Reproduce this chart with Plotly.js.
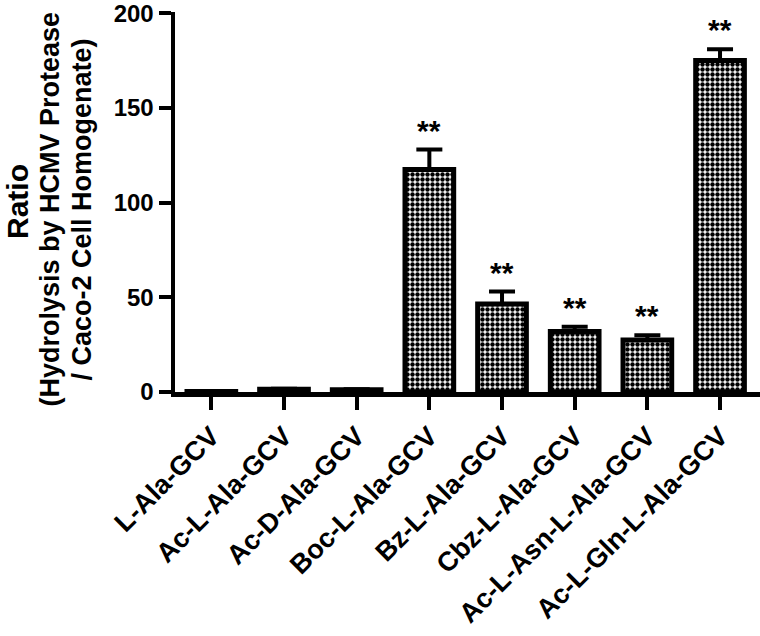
<!DOCTYPE html>
<html>
<head>
<meta charset="utf-8">
<script src="https://cdn.plot.ly/plotly-3.0.1.min.js"></script>
<style>
  html, body { margin: 0; padding: 0; background: #fff; }
  #chart { width: 760px; height: 636px; }
</style>
</head>
<body>
<div id="chart"></div>
<script>
// ---- data ----
var categories = ['L-Ala-GCV', 'Ac-L-Ala-GCV', 'Ac-D-Ala-GCV', 'Boc-L-Ala-GCV',
                  'Bz-L-Ala-GCV', 'Cbz-L-Ala-GCV', 'Ac-L-Asn-L-Ala-GCV', 'Ac-L-Gln-L-Ala-GCV'];
var ratio = [0.3, 1.5, 1.2, 117.5, 46.5, 32, 27.5, 175];
var sem = [0.1, 0.2, 0.2, 10.5, 6.5, 2.5, 2.5, 6];
var significance = ['', '', '', '**', '**', '**', '**', '**'];
var yTickVals = [0, 50, 100, 150, 200];
var yTickText = ['0', '50', '100', '150', '200'];

var FONT = '"Liberation Sans", Arial, Helvetica, sans-serif';

var trace = {
  type: 'bar',
  x: categories,
  y: ratio,
  width: 0.67,
  marker: {
    color: '#ffffff',
    line: { color: '#000000', width: 5 },
    pattern: { shape: '.', fgcolor: '#000000', bgcolor: '#ffffff', size: 5, solidity: 0.62 }
  },
  error_y: {
    type: 'data',
    array: sem,
    arrayminus: sem.map(function () { return 0; }),
    symmetric: false,
    color: '#000000',
    thickness: 4,
    width: 13,
    visible: true
  },
  hoverinfo: 'x+y'
};

var annotations = [];
categories.forEach(function (c, i) {
  if (significance[i]) {
    annotations.push({
      x: c, y: ratio[i] + sem[i], xref: 'x', yref: 'y',
      text: '<b>' + significance[i] + '</b>',
      showarrow: false, yanchor: 'bottom', yshift: 1,
      font: { family: FONT, size: 30, color: '#000' }
    });
  }
});
// y-axis title as rotated lines
annotations.push({
  xref: 'paper', yref: 'paper', x: 0, y: 0.5, xanchor: 'center', yanchor: 'middle',
  xshift: -158, textangle: -90, showarrow: false, borderpad: 0,
  text: '<b>Ratio</b>', font: { family: FONT, size: 30, color: '#000' }
});
annotations.push({
  xref: 'paper', yref: 'paper', x: 0, y: 0.48, xanchor: 'center', yanchor: 'middle',
  xshift: -125, textangle: -90, showarrow: false, borderpad: 0,
  text: '<b>(Hydrolysis by HCMV Protease</b>', font: { family: FONT, size: 27, color: '#000' }
});
annotations.push({
  xref: 'paper', yref: 'paper', x: 0, y: 0.48, xanchor: 'center', yanchor: 'middle',
  xshift: -93, textangle: -90, showarrow: false, borderpad: 0,
  text: '<b>/ Caco-2 Cell Homogenate)</b>', font: { family: FONT, size: 27, color: '#000' }
});

var layout = {
  width: 760, height: 636,
  margin: { l: 175, r: 0, t: 12, b: 244, pad: 0 },
  paper_bgcolor: '#ffffff', plot_bgcolor: '#ffffff',
  showlegend: false,
  font: { family: FONT, color: '#000' },
  xaxis: {
    type: 'category',
    range: [-0.5, 7.55],
    showline: true, linecolor: '#000', linewidth: 4.5,
    ticks: 'outside', ticklen: 13, tickwidth: 4, tickcolor: '#000',
    tickangle: -45,
    ticklabeloverflow: 'allow',
    tickfont: { family: FONT, size: 27, color: '#000', weight: 'bold' },
    showgrid: false, zeroline: false, fixedrange: true
  },
  yaxis: {
    range: [0, 200.6],
    tickmode: 'array',
    tickvals: yTickVals,
    ticktext: yTickText,
    ticklabeloverflow: 'allow',
    showline: true, linecolor: '#000', linewidth: 4.5,
    ticks: 'outside', ticklen: 12, tickwidth: 4, tickcolor: '#000',
    tickfont: { family: FONT, size: 24, color: '#000', weight: 'bold' },
    showgrid: false, zeroline: false, fixedrange: true
  },
  annotations: annotations
};

Plotly.newPlot('chart', [trace], layout, { displayModeBar: false, staticPlot: true });
</script>
</body>
</html>
